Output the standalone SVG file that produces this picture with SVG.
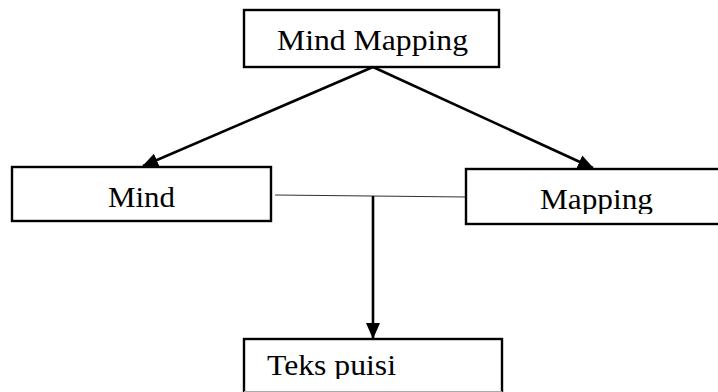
<svg xmlns="http://www.w3.org/2000/svg" width="718" height="392" viewBox="0 0 718 392">
<style>
.box{fill:#fff;stroke:#000;stroke-width:2.4}
.lbl{font-size:28.5px;fill:#000}
.arr{stroke:#000;stroke-width:2.6;fill:none}
.thin{stroke:#333;stroke-width:1.2;fill:none}
</style>
<defs>
<marker id="ah" markerUnits="userSpaceOnUse" markerWidth="16" markerHeight="14" refX="15" refY="7" orient="auto">
<path d="M0,0 L16,7 L0,14 Z" fill="#000"/>
</marker>
<clipPath id="clipMap"><rect x="466" y="150" width="260" height="64"/></clipPath>
<clipPath id="clipTeks"><rect x="244" y="340" width="260" height="39"/></clipPath>
</defs>
<g id="connectors">
<line class="arr" x1="373" y1="67" x2="143" y2="166" marker-end="url(#ah)"/>
<line class="arr" x1="373" y1="67" x2="593" y2="168" marker-end="url(#ah)"/>
<line class="thin" x1="275" y1="195" x2="467" y2="197"/>
<line class="arr" x1="373" y1="196" x2="373" y2="338" marker-end="url(#ah)"/>
</g>
<g font-family="'Liberation Serif', 'Times New Roman', Times, serif">
<g id="node-mindmapping">
<rect class="box" x="244" y="10" width="255" height="57"/>
<text class="lbl" x="277" y="50" textLength="191" lengthAdjust="spacingAndGlyphs">Mind Mapping</text>
</g>
<g id="node-mind">
<rect class="box" x="12" y="167" width="259" height="54"/>
<text class="lbl" x="108" y="206.5" textLength="67" lengthAdjust="spacingAndGlyphs">Mind</text>
</g>
<g id="node-mapping">
<rect class="box" x="466" y="169" width="260" height="55"/>
<text class="lbl" x="540" y="208.5" textLength="113" lengthAdjust="spacingAndGlyphs" clip-path="url(#clipMap)">Mapping</text>
</g>
<g id="node-tekspuisi">
<rect class="box" x="244" y="339" width="258" height="60"/>
<text class="lbl" x="267" y="375" textLength="129" lengthAdjust="spacingAndGlyphs" clip-path="url(#clipTeks)">Teks puisi</text>
<line x1="244" y1="391.5" x2="502" y2="391.5" stroke="#aaa" stroke-width="1"/>
</g>
</g>
</svg>
